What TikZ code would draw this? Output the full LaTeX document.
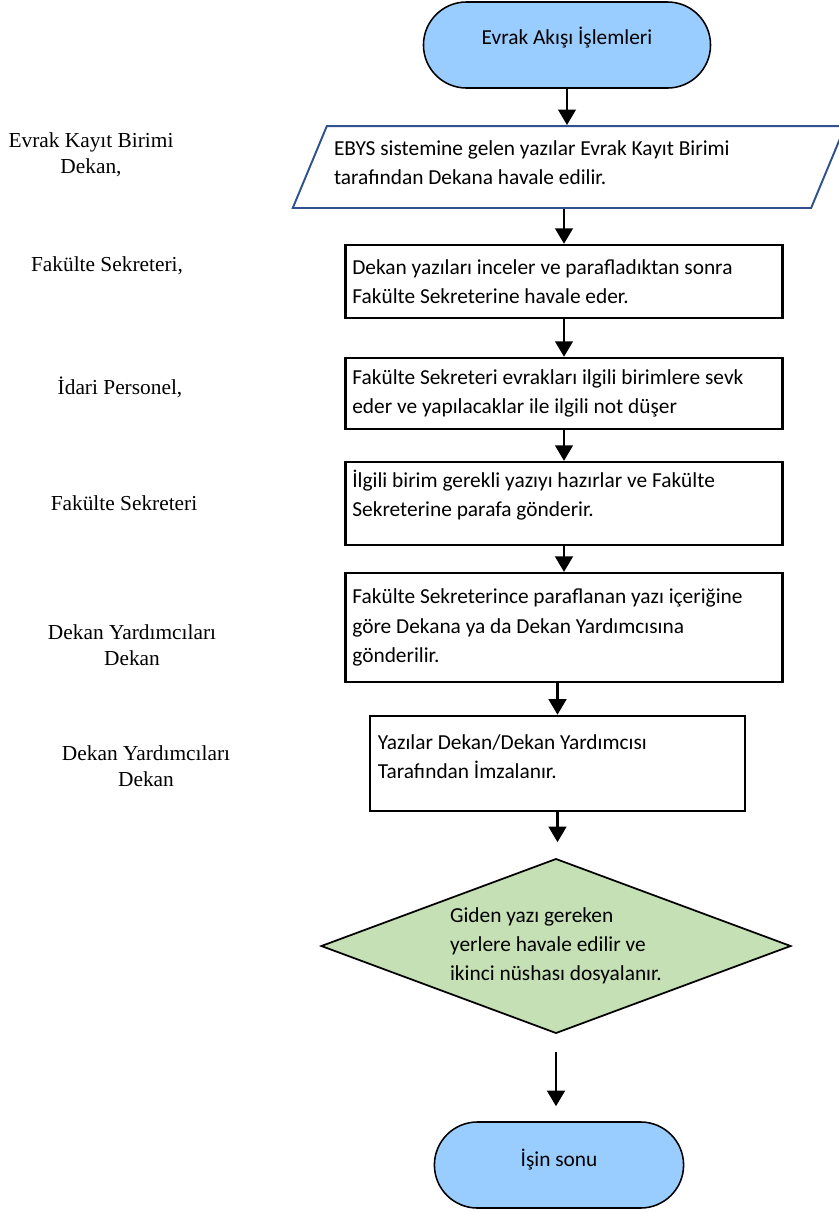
\documentclass[tikz,border=0pt]{standalone}
\usepackage{fontspec}
\setmainfont{Carlito}
\newfontfamily\labfont{Liberation Serif}
\usepackage{tikz}
\usetikzlibrary{
        shapes.geometric,
        shapes.misc,
        arrows.meta
    }

\definecolor{termblue}{RGB}{153,204,255}
\definecolor{decgreen}{RGB}{197,224,180}
\definecolor{ioline}{RGB}{47,82,143}

\begin{document}
\begin{tikzpicture}
[x=0.515pt, y=-0.515pt,
baseshape/.style={font=\fontsize{11pt}{15pt}\selectfont, draw=black, text=black},
termin/.style={baseshape, rounded rectangle, fill=termblue, line width=0.8pt, minimum width=154.5pt, minimum height=44.3pt},
iobox/.style={baseshape, trapezium, trapezium stretches=true, trapezium left angle=63.4, trapezium right angle=116.6,
draw=ioline, line width=1pt, minimum width=285pt, minimum height=42.2pt, inner xsep=0pt, text width=242pt, align=flush left},
procbox/.style={baseshape, rectangle, line width=1.2pt, inner xsep=3.6pt, text width=218pt, align=flush left},
decbox/.style={baseshape, diamond, fill=decgreen, line width=0.9pt, aspect=2.69, minimum width=242pt, minimum height=90pt, inner sep=0pt, align=left},
lab/.style={font=\labfont\fontsize{11pt}{13.5pt}\selectfont, align=center},
flowarrow/.style={line width=1.5pt, -{Triangle[width=9pt,length=8pt]}},]
\useasboundingbox (0,0) rectangle (839,1212);

\node (start) [termin, text depth=9.5pt] at (567,45) {Evrak Akışı İşlemleri};
\node (ebys) [iobox, text depth=19.7pt] at (569,167) {EBYS sistemine gelen yazılar Evrak Kayıt Birimi\\tarafından Dekana havale edilir.};
\node (dekan) [procbox, minimum height=37.6pt] at (564,281.5) {Dekan yazıları inceler ve parafladıktan sonra\\Fakülte Sekreterine havale eder.};
\node (sekr) [procbox, minimum height=36.6pt] at (564,393.5) {Fakülte Sekreteri evrakları ilgili birimlere sevk\\eder ve yapılacaklar ile ilgili not düşer};
\node (birim) [procbox, minimum height=42.7pt, inner ysep=2pt, text depth=25.5pt] at (564,503.5) {İlgili birim gerekli yazıyı hazırlar ve Fakülte\\Sekreterine parafa gönderir.};
\node (paraf) [procbox, minimum height=56pt] at (564,627.5) {Fakülte Sekreterince paraflanan yazı içeriğine\\göre Dekana ya da Dekan Yardımcısına\\gönderilir.};
\node (imza) [procbox, text width=185pt, inner xsep=4pt, minimum height=49pt, text depth=22.2pt] at (557.5,763.5) {Yazılar Dekan/Dekan Yardımcısı\\Tarafından İmzalanır.};
\node (giden) [decbox] at (556,946) {Giden yazı gereken\\yerlere havale edilir ve\\ikinci nüshası dosyalanır.};
\node (son) [termin, minimum width=135pt, text depth=7.5pt] at (559,1165) {İşin sonu};

% sorumlular
\node (lab1) [lab] at (91,155) {Evrak Kayıt Birimi\\Dekan,};
\node (lab2) [lab] at (107,266) {Fakülte Sekreteri,};
\node (lab3) [lab] at (120,387) {İdari Personel,};
\node (lab4) [lab] at (124,503) {Fakülte Sekreteri};
\node (lab5) [lab] at (132,645) {Dekan Yardımcıları\\Dekan};
\node (lab6) [lab] at (146,766) {Dekan Yardımcıları\\Dekan};

\draw[flowarrow] (start.south) -- (start.south |- ebys.north);
\draw[flowarrow] (dekan.north |- ebys.south) -- (dekan.north);
\draw[flowarrow] (dekan) -- (sekr);
\draw[flowarrow] (sekr) -- (birim);
\draw[flowarrow] (birim) -- (paraf);
\draw[flowarrow] (imza.north |- paraf.south) -- (imza.north);
\draw[flowarrow, shorten >=8pt] (imza.south) -- (imza.south |- giden.north);
\draw[flowarrow, shorten <=9pt, shorten >=7.7pt] (giden.south) -- (giden.south |- son.north);

\end{tikzpicture}
\end{document}
